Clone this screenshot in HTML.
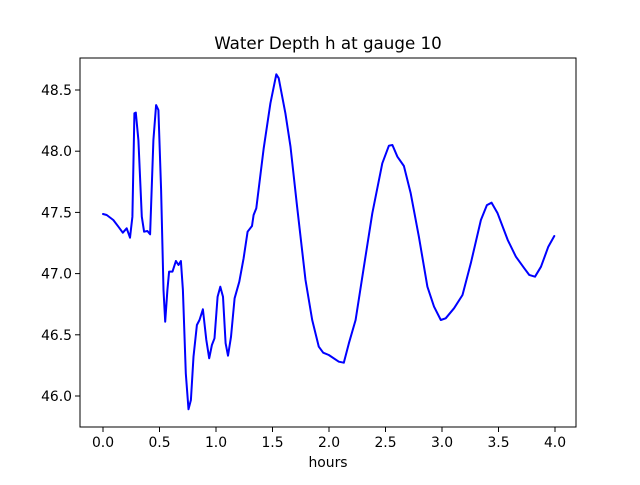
<!DOCTYPE html>
<html><head><meta charset="utf-8"><style>
body{margin:0;background:#fff;}
svg text{font-family:"DejaVu Sans","Liberation Sans",sans-serif;fill:#000;}
</style></head><body>
<svg id="chart" width="640" height="480" viewBox="0 0 640 480" xmlns="http://www.w3.org/2000/svg">
<rect width="640" height="480" fill="#fff"/>
<text x="328" y="49" font-size="16.7" text-anchor="middle">Water Depth h at gauge 10</text>
<text x="328" y="467" font-size="13.9" text-anchor="middle">hours</text>
<g id="ticks"></g>
<polyline id="series" fill="none" stroke="#0000ff" stroke-width="2" stroke-linejoin="round" stroke-linecap="round"/>
<rect x="80" y="58" width="496" height="369" fill="none" stroke="#000" stroke-width="1"/>
</svg>
<script>
const hours=[0.0,0.033,0.091,0.136,0.175,0.210,0.239,0.260,0.278,0.290,0.313,0.343,0.364,0.393,0.417,0.446,0.470,0.490,0.514,0.535,0.550,0.570,0.585,0.615,0.645,0.668,0.689,0.707,0.733,0.757,0.778,0.801,0.831,0.854,0.884,0.914,0.940,0.964,0.987,1.014,1.038,1.062,1.085,1.106,1.133,1.165,1.206,1.244,1.280,1.319,1.333,1.357,1.422,1.481,1.534,1.555,1.614,1.659,1.718,1.792,1.851,1.910,1.949,1.998,2.087,2.131,2.176,2.235,2.309,2.383,2.472,2.530,2.561,2.605,2.663,2.723,2.796,2.871,2.929,2.989,3.033,3.107,3.181,3.255,3.344,3.397,3.439,3.492,3.581,3.654,3.728,3.772,3.823,3.876,3.941,3.994];
const depth=[47.487,47.479,47.438,47.383,47.334,47.370,47.293,47.465,48.310,48.315,48.091,47.465,47.342,47.348,47.321,48.091,48.377,48.337,47.683,46.866,46.607,46.866,47.016,47.016,47.103,47.070,47.103,46.866,46.185,45.891,45.967,46.321,46.580,46.621,46.708,46.458,46.308,46.417,46.471,46.811,46.893,46.811,46.431,46.329,46.484,46.798,46.934,47.125,47.342,47.389,47.479,47.534,48.024,48.391,48.628,48.596,48.310,48.037,47.547,46.948,46.621,46.403,46.354,46.335,46.280,46.272,46.431,46.621,47.056,47.493,47.901,48.045,48.051,47.955,47.879,47.656,47.301,46.893,46.730,46.621,46.635,46.717,46.825,47.084,47.438,47.560,47.579,47.493,47.275,47.138,47.043,46.989,46.975,47.056,47.220,47.307];
const xTicks=[0.0,0.5,1.0,1.5,2.0,2.5,3.0,3.5,4.0];
const yTicks=[46.0,46.5,47.0,47.5,48.0,48.5];
const X=v=>103+v*113;
const Y=v=>396-(v-46.0)*122.4;
const NS='http://www.w3.org/2000/svg';
const g=document.getElementById('ticks');
xTicks.forEach(t=>{
  const l=document.createElementNS(NS,'line');
  
  
  l.setAttribute('x1',X(t));l.setAttribute('x2',X(t));l.setAttribute('y1',427);l.setAttribute('y2',432);l.setAttribute('stroke','#000');
  g.appendChild(l);
  const tx=document.createElementNS(NS,'text');
  
  
  tx.setAttribute('x',X(t));tx.setAttribute('y',447);tx.setAttribute('font-size','13.9');tx.setAttribute('text-anchor','middle');
  tx.textContent=t.toFixed(1);g.appendChild(tx);
});
yTicks.forEach(t=>{
  const l=document.createElementNS(NS,'line');
  
  
  l.setAttribute('x1',75);l.setAttribute('x2',80);l.setAttribute('y1',Y(t));l.setAttribute('y2',Y(t));l.setAttribute('stroke','#000');
  g.appendChild(l);
  const tx=document.createElementNS(NS,'text');
  
  
  tx.setAttribute('x',72);tx.setAttribute('y',Y(t)+5);tx.setAttribute('font-size','13.9');tx.setAttribute('text-anchor','end');
  tx.textContent=t.toFixed(1);g.appendChild(tx);
});
document.getElementById('series').setAttribute('points',hours.map((h,i)=>X(h).toFixed(1)+','+Y(depth[i]).toFixed(1)).join(' '));
</script>
</body></html>
